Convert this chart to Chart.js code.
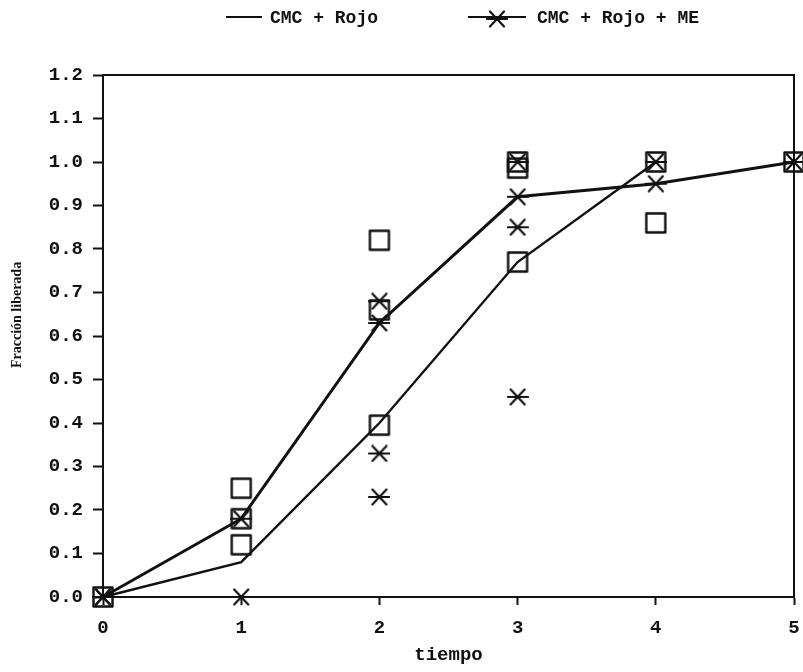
<!DOCTYPE html>
<html>
<head>
<meta charset="utf-8">
<script src="https://cdn.jsdelivr.net/npm/chart.js@4/dist/chart.umd.min.js"></script>
<style>
  html, body { margin: 0; padding: 0; background: #ffffff; overflow: hidden; }
  #wrap { width: 803px; height: 672px; }
  canvas { display: block; }
</style>
</head>
<body>
<div id="wrap"><canvas id="chart" width="803" height="672"></canvas></div>
<script>
// Sampling times and tick labels
const times = [0, 1, 2, 3, 4, 5];
const xTickLabels = ['0', '1', '2', '3', '4', '5'];
const yTickValues = [0, 0.1, 0.2, 0.3, 0.4, 0.5, 0.6, 0.7, 0.8, 0.9, 1.0, 1.1, 1.2];
const yTickLabels = ['0.0', '0.1', '0.2', '0.3', '0.4', '0.5', '0.6', '0.7', '0.8', '0.9', '1.0', '1.1', '1.2'];

// Mean released fraction per series (null = no measurement)
const rojoMean   = [0, 0.08, 0.40, 0.77, 1.00, null];
const rojoMeMean = [0, 0.18, 0.63, 0.92, 0.95, 1.00];

// Individual replicate readings, square markers
const squareX = [0, 1, 1, 1, 2, 2, 2, 3, 3, 3, 4, 4, 5];
const squareY = [0, 0.25, 0.18, 0.12, 0.82, 0.66, 0.395, 1.00, 0.986, 0.77, 1.00, 0.86, 1.00];

// Individual replicate readings, asterisk markers
const starX = [0, 1, 2, 2, 2, 3, 3, 3, 4];
const starY = [0, 0, 0.68, 0.33, 0.23, 1.00, 0.85, 0.46, 1.00];

const INK = '#111111';

function makeSquare() {
  const c = document.createElement('canvas');
  c.width = 24; c.height = 24;
  const g = c.getContext('2d');
  g.strokeStyle = INK;
  g.lineWidth = 2.4;
  g.lineJoin = 'round';
  g.strokeRect(2.5, 2.5, 19, 19);
  return c;
}

function makeStar() {
  const c = document.createElement('canvas');
  c.width = 22; c.height = 18;
  const g = c.getContext('2d');
  g.strokeStyle = INK;
  g.lineWidth = 2.2;
  g.lineCap = 'round';
  g.beginPath();
  g.moveTo(1, 9);  g.lineTo(21, 9);
  g.moveTo(4, 1.5);  g.lineTo(18, 16.5);
  g.moveTo(4, 16.5); g.lineTo(18, 1.5);
  g.stroke();
  return c;
}

const squareImg = makeSquare();
const starImg = makeStar();

const pts = (xs, ys) => xs.map((x, i) => ({ x: x, y: ys[i] }));

// Scales keep their own box size; no extra side padding for overhanging labels
function noSidePadding(s) {
  s.paddingLeft = 0;
  s.paddingRight = 0;
}

// Legend above the plot (line sample, optional marker, label) and the
// vertical axis caption beside the tick labels
const captions = {
  id: 'captions',
  afterDraw(chart, args, opts) {
    const ctx = chart.ctx;
    ctx.save();
    ctx.fillStyle = INK;
    ctx.strokeStyle = INK;
    ctx.font = opts.font;
    ctx.textBaseline = 'middle';
    opts.items.forEach(it => {
      const ds = chart.data.datasets[it.dataset];
      ctx.lineWidth = 2.2;
      ctx.beginPath();
      ctx.moveTo(it.x0, opts.y);
      ctx.lineTo(it.x1, opts.y);
      ctx.stroke();
      if (it.marker) {
        const img = ds.pointStyle;
        ctx.drawImage(img, (it.x0 + it.x1) / 2 - img.width / 2, opts.y - img.height / 2 + 2);
      }
      ctx.fillText(ds.label, it.tx, opts.y + 1);
    });

    const yt = opts.yTitle;
    ctx.translate(yt.x, yt.y);
    ctx.rotate(-Math.PI / 2);
    ctx.font = yt.font;
    ctx.textAlign = 'left';
    ctx.textBaseline = 'middle';
    ctx.fillText(yt.text, 0, 0);
    ctx.restore();
  }
};

const tickFont = { family: 'Liberation Mono', weight: 'bold', size: 19 };

new Chart(document.getElementById('chart'), {
  type: 'line',
  data: {
    datasets: [
      {
        label: 'CMC + Rojo',
        data: pts(times, rojoMean),
        borderColor: INK,
        borderWidth: 2.4,
        pointRadius: 0,
        tension: 0,
        spanGaps: false,
        clip: false
      },
      {
        label: 'CMC + Rojo + ME',
        data: pts(times, rojoMeMean),
        borderColor: INK,
        borderWidth: 3,
        pointStyle: starImg,
        pointRadius: 10,
        tension: 0,
        clip: false
      },
      {
        type: 'scatter',
        label: 'replicas (cuadrado)',
        data: pts(squareX, squareY),
        pointStyle: squareImg,
        pointRadius: 11,
        showLine: false,
        clip: false
      },
      {
        type: 'scatter',
        label: 'replicas (asterisco)',
        data: pts(starX, starY),
        pointStyle: starImg,
        pointRadius: 10,
        showLine: false,
        clip: false
      }
    ]
  },
  options: {
    responsive: false,
    animation: false,
    devicePixelRatio: 1,
    layout: { autoPadding: false, padding: { top: 75, right: 9, bottom: 0, left: 0 } },
    plugins: {
      legend: { display: false },
      tooltip: { enabled: false },
      captions: {
        y: 17,
        font: 'bold 18px "Liberation Mono"',
        items: [
          { dataset: 0, x0: 226, x1: 262, tx: 270, marker: false },
          { dataset: 1, x0: 468, x1: 526, tx: 537, marker: true }
        ],
        yTitle: {
          text: 'Fracción liberada',
          font: 'bold 14px "Liberation Serif"',
          x: 17,
          y: 368
        }
      }
    },
    scales: {
      x: {
        type: 'linear',
        position: 'bottom',
        min: 0, max: 5,
        afterBuildTicks(s) { s.ticks = times.map(v => ({ value: v })); },
        afterFit(s) { s.height = 75; noSidePadding(s); },
        ticks: {
          color: INK,
          font: { family: 'Liberation Mono', weight: 'bold', size: 19, lineHeight: '47px' },
          padding: 0,
          maxRotation: 0,
          callback: (v, i) => xTickLabels[i]
        },
        grid: { drawOnChartArea: false, tickLength: 8, tickColor: INK, tickWidth: 2 },
        border: { color: INK, width: 2 },
        title: {
          display: true,
          text: 'tiempo',
          color: INK,
          font: { family: 'Liberation Mono', weight: 'bold', size: 19 },
          padding: { top: 0, bottom: 5 }
        }
      },
      y: {
        type: 'linear',
        position: 'left',
        min: 0, max: 1.2,
        afterBuildTicks(s) { s.ticks = yTickValues.map(v => ({ value: v })); },
        afterFit(s) { s.width = 103; noSidePadding(s); },
        ticks: {
          color: INK,
          font: tickFont,
          padding: 10,
          callback: (v, i) => yTickLabels[i]
        },
        grid: { drawOnChartArea: false, tickLength: 10, tickColor: INK, tickWidth: 2 },
        border: { color: INK, width: 2 }
      },
      xTop: {
        type: 'linear',
        position: 'top',
        min: 0, max: 5,
        afterFit(s) { s.height = 0; noSidePadding(s); },
        ticks: { display: false },
        grid: { drawOnChartArea: false, drawTicks: false },
        border: { color: INK, width: 2 }
      },
      yRight: {
        type: 'linear',
        position: 'right',
        min: 0, max: 1.2,
        afterFit(s) { s.width = 0; noSidePadding(s); },
        ticks: { display: false },
        grid: { drawOnChartArea: false, drawTicks: false },
        border: { color: INK, width: 2 }
      }
    }
  },
  plugins: [captions]
});
</script>
</body>
</html>
